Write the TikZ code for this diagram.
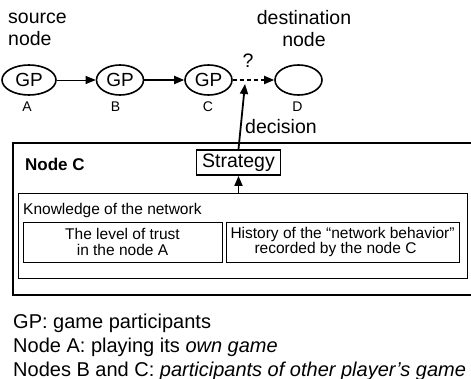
\documentclass[tikz,border=0pt]{standalone}
\usepackage{fontspec}
\setmainfont{Liberation Sans}
\usetikzlibrary{arrows.meta,shapes.geometric}
\begin{document}
\begin{tikzpicture}[x=1pt,y=-1pt,
  txt/.style={inner sep=0pt,font=\fontsize{19.5}{22}\selectfont},
  smalltxt/.style={inner sep=0pt,font=\fontsize{15.5}{15.5}\selectfont},
  lbl/.style={inner sep=0pt,font=\fontsize{14}{14}\selectfont},
  gp/.style={ellipse,draw,line width=1.6pt,minimum width=47pt,minimum height=30pt,inner sep=0pt,font=\fontsize{19}{19}\selectfont},
  tip/.style={-{Triangle[length=10pt,width=8pt]}},
  thickline/.style={line width=1.8pt},
  boxed/.style={draw,line width=0.8pt,inner sep=0pt}
]
\useasboundingbox (0,0) rectangle (471,379);
% top labels
\node[txt,anchor=base west,align=left] (src) at (8,46) {source\\node};
\node[txt,anchor=base,align=center] (dst) at (304,46.5) {destination\\node};
% game participants
\node[gp,minimum width=54pt] (A) at (29,80) {GP};
\node[gp] (B) at (120,80) {GP};
\node[gp] (C) at (208.5,80) {GP};
\node[gp] (D) at (298.5,80) {};
\node[lbl,anchor=base] (la) at (27,112) {A};
\node[lbl,anchor=base] (lb) at (115.5,112) {B};
\node[lbl,anchor=base] (lc) at (208,112) {C};
\node[lbl,anchor=base] (ld) at (297.5,112) {D};
\draw[tip,line width=0.8pt] (A) -- (B);
\draw[tip,thickline] (B) -- (C);
\draw[tip,thickline,dash pattern=on 4pt off 3pt] (C) -- (D);
\node[txt,anchor=base] (q) at (248,68) {?};
% node C container
\draw[line width=2pt] (471,143) -- (13,143) -- (13,295) -- (471,295);
\node[inner sep=0pt,anchor=base west,font=\fontsize{17}{17}\selectfont\bfseries] (nc) at (25,170.5) {Node C};
\node[txt,draw,line width=1.8pt,minimum width=84pt,minimum height=25pt] (S) at (238.5,162.5) {Strategy};
\coordinate (dec) at (245,84);
\draw[tip,thickline] (S.north) -- (dec);
\node[txt,anchor=base west] (dl) at (245,134) {decision};
% knowledge
\node[boxed,minimum width=449pt,minimum height=85pt] (K) at (242.5,235.5) {};
\node[smalltxt,anchor=base west] (kt) at (23,215) {Knowledge of the network};
\node[boxed,smalltxt,minimum width=199pt,minimum height=40pt,align=center] (K1) at (122.5,242) {The level of trust\\in the node A};
\node[boxed,smalltxt,minimum width=233pt,minimum height=40pt,align=left] (K2) at (342.5,242) {History of the “network behavior”\\\hspace*{24pt}recorded by the node C};
\draw[tip,thickline] (S.south |- K.north) -- (S.south);
% legend
\node[inner sep=0pt,anchor=base west,align=left,font=\fontsize{20}{24}\selectfont] (legend) at (13,376) {GP: game participants\\Node A: playing its \textit{own game}\\Nodes B and C: \textit{participants of other player’s game}};
\end{tikzpicture}
\end{document}
